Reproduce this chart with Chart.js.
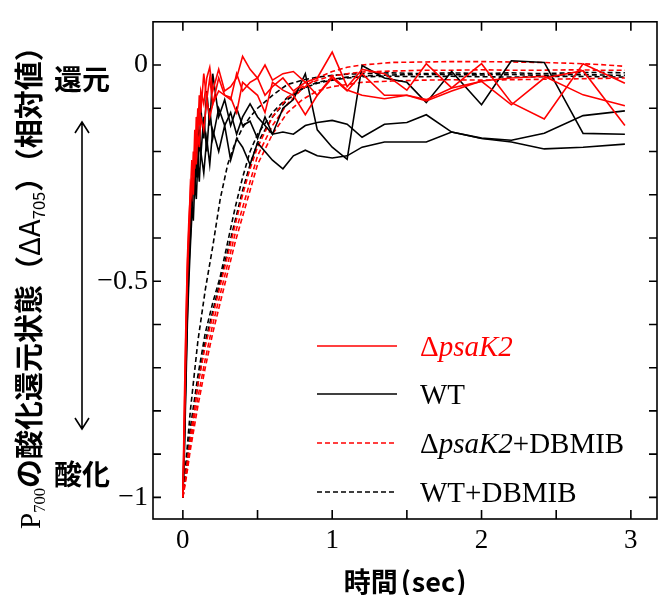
<!DOCTYPE html>
<html>
<head>
<meta charset="utf-8">
<script src="https://cdn.jsdelivr.net/npm/chart.js@4.4.0/dist/chart.umd.min.js"></script>
<style>body{margin:0;background:#fff}</style>
</head>
<body>
<canvas id="c" width="658" height="595"></canvas>
<script>
// sampling times (sec)
var time = [0, 0.01, 0.02, 0.03, 0.04, 0.05, 0.06, 0.07, 0.08, 0.09, 0.1, 0.11, 0.12, 0.14, 0.16, 0.18, 0.2,
  0.24, 0.28, 0.32, 0.36, 0.4, 0.45, 0.5, 0.55, 0.6, 0.67, 0.74, 0.82, 0.9, 1.0,
  1.1, 1.2, 1.35, 1.5, 1.63, 1.8, 2.0, 2.2, 2.42, 2.68, 2.96];
var dbTime = [0, 0.025, 0.05, 0.075, 0.1, 0.15, 0.2, 0.25, 0.3, 0.35, 0.4, 0.45, 0.5, 0.6, 0.7,
  0.8, 0.9, 1.0, 1.1, 1.2, 1.4, 1.6, 1.8, 2.0, 2.2, 2.4, 2.6, 2.8, 2.96];

// ΔpsaK2
var psak2A = [-1, -0.78, -0.6, -0.45, -0.36, -0.3, -0.22, -0.26, -0.15, -0.19,
  -0.1, -0.14, -0.06, -0.09, -0.03, -0.005, -0.06, -0.01, -0.06, -0.05, -0.03, 0.02,
  -0.01, -0.03, 0.0, -0.035, -0.02, -0.015, -0.04, -0.03, 0.03,
  -0.05, -0.01, -0.02, -0.058, 0.003, -0.053, 0.003, -0.087, -0.125, 0.003, -0.042];
var psak2B = [-1, -0.82, -0.62, -0.47, -0.38, -0.28, -0.3, -0.2, -0.24, -0.12,
  -0.16, -0.07, -0.11, -0.02, -0.08, -0.03, -0.09, -0.03, -0.07, -0.08, -0.02, -0.06,
  -0.04, -0.03, -0.07, -0.05, -0.03, -0.06, -0.04, -0.07, -0.03,
  -0.06, -0.02, -0.07, -0.07, -0.083, -0.06, -0.037, -0.03, -0.026, -0.069, -0.094];
var psak2C = [-1, -0.85, -0.66, -0.5, -0.4, -0.33, -0.26, -0.3, -0.2, -0.23,
  -0.16, -0.19, -0.12, -0.15, -0.08, -0.12, -0.09, -0.06, -0.07, -0.075, -0.11, -0.04,
  -0.055, -0.07, -0.11, -0.04, -0.058, -0.07, -0.115, -0.07, -0.026,
  -0.058, -0.07, -0.078, -0.07, -0.08, -0.053, -0.038, -0.092, -0.03, -0.013, -0.14];

// WT
var wtA = [-1, -0.88, -0.72, -0.58, -0.47, -0.4, -0.33, -0.36, -0.27, -0.31,
  -0.22, -0.27, -0.2, -0.25, -0.17, -0.23, -0.15, -0.2, -0.14, -0.22, -0.17, -0.19,
  -0.23, -0.18, -0.2, -0.22, -0.24, -0.21, -0.197, -0.21, -0.215,
  -0.21, -0.19, -0.178, -0.178, -0.178, -0.155, -0.17, -0.178, -0.194, -0.19, -0.183];
var wtB = [-1, -0.86, -0.7, -0.55, -0.45, -0.36, -0.3, -0.25, -0.3, -0.2,
  -0.26, -0.15, -0.21, -0.12, -0.2, -0.1, -0.17, -0.1, -0.14, -0.11, -0.16, -0.12,
  -0.09, -0.12, -0.14, -0.16, -0.155, -0.16, -0.14, -0.133, -0.128,
  -0.137, -0.167, -0.137, -0.133, -0.115, -0.155, -0.169, -0.174, -0.158, -0.117, -0.106];
var wtC = [-1, -0.9, -0.75, -0.6, -0.5, -0.42, -0.35, -0.28, -0.22, -0.26,
  -0.14, -0.2, -0.1, -0.17, -0.06, -0.14, -0.02, -0.12, -0.08, -0.14, -0.1, -0.14,
  -0.13, -0.17, -0.12, -0.16, -0.1, -0.08, -0.02, -0.15, -0.19,
  -0.218, -0.001, -0.03, -0.04, -0.087, -0.015, -0.092, 0.01, 0.006, -0.158, -0.16];

// ΔpsaK2+DBMIB
var psak2DbA = [-1, -0.93, -0.86, -0.8, -0.74, -0.65, -0.58, -0.51, -0.44, -0.37, -0.3, -0.24, -0.19, -0.12, -0.075,
  -0.05, -0.035, -0.025, -0.02, -0.016, -0.014, -0.012, -0.012, -0.011, -0.012, -0.012, -0.011, -0.012, -0.012];
var psak2DbB = [-1, -0.94, -0.88, -0.82, -0.77, -0.68, -0.6, -0.53, -0.46, -0.39, -0.33, -0.27, -0.21, -0.14, -0.09,
  -0.055, -0.03, -0.015, -0.005, 0.0, 0.006, 0.007, 0.008, 0.008, 0.007, 0.006, 0.004, 0.001, -0.003];
var psak2DbC = [-1, -0.95, -0.89, -0.84, -0.79, -0.7, -0.62, -0.55, -0.48, -0.41, -0.35, -0.29, -0.23, -0.16, -0.11,
  -0.08, -0.06, -0.05, -0.045, -0.04, -0.037, -0.035, -0.034, -0.035, -0.034, -0.033, -0.032, -0.031, -0.03];

// WT+DBMIB
var wtDbA = [-1, -0.9, -0.8, -0.72, -0.64, -0.52, -0.42, -0.31, -0.23, -0.18, -0.145, -0.12, -0.1, -0.07, -0.045,
  -0.035, -0.028, -0.024, -0.021, -0.02, -0.018, -0.02, -0.018, -0.02, -0.018, -0.02, -0.018, -0.017, -0.018];
var wtDbB = [-1, -0.92, -0.84, -0.78, -0.72, -0.62, -0.55, -0.49, -0.41, -0.33, -0.26, -0.2, -0.16, -0.11, -0.075,
  -0.055, -0.04, -0.033, -0.028, -0.025, -0.023, -0.022, -0.022, -0.023, -0.022, -0.024, -0.022, -0.023, -0.024];
var wtDbC = [-1, -0.93, -0.86, -0.8, -0.74, -0.64, -0.57, -0.5, -0.43, -0.36, -0.29, -0.23, -0.18, -0.12, -0.08,
  -0.055, -0.042, -0.035, -0.03, -0.027, -0.026, -0.027, -0.026, -0.027, -0.028, -0.027, -0.026, -0.027, -0.028];

// ticks
var xTicks = [0, 0.5, 1, 1.5, 2, 2.5, 3];
var xTickLabels = ['0', '', '1', '', '2', '', '3'];
var yTicks = [-1, -0.9, -0.8, -0.7, -0.6, -0.5, -0.4, -0.3, -0.2, -0.1, 0];
var yTickLabels = ['\u22121', '', '', '', '', '\u22120.5', '', '', '', '', '0'];

var RED = '#ff0000', BLACK = '#000000';
var SERIF = '"Liberation Serif", "DejaVu Serif", serif';
var CJK = '"Noto Sans CJK JP", "Noto Sans", sans-serif';

function pts(ts, vs) {
  return ts.map(function (t, i) { return { x: t, y: vs[i] }; });
}
function ds(label, ts, vs, color, dashed) {
  return {
    label: label, data: pts(ts, vs), borderColor: color, borderWidth: 1.6,
    borderDash: dashed ? [5, 3] : [], pointRadius: 0, tension: 0, fill: false
  };
}

function runs(ctx, x, y, parts) {
  var cx = x;
  parts.forEach(function (p) {
    ctx.font = p.font;
    ctx.fillStyle = p.color || '#000';
    ctx.fillText(p.text, cx, y + (p.dy || 0));
    cx += ctx.measureText(p.text).width + (p.gap || 0);
  });
  return cx - x;
}
function runsWidth(ctx, parts) {
  var w = 0;
  parts.forEach(function (p) { ctx.font = p.font; w += ctx.measureText(p.text).width + (p.gap || 0); });
  return w;
}

// y title pieces, sizes scaled to fit the reference length
function yTitleParts(k) {
  var s = function (n) { return Math.round(n * k * 10) / 10 + 'px '; };
  return [
    { text: 'P', font: s(28) + SERIF },
    { text: '700', font: s(16) + SERIF, dy: 5 * k },
    { text: 'の酸化還元状態（', font: 'bold ' + s(28) + CJK },
    { text: '\u0394A', font: s(28) + CJK },
    { text: '705', font: s(16) + CJK, dy: 5 * k },
    { text: '）（相対値）', font: 'bold ' + s(28) + CJK }
  ];
}

var decor = {
  id: 'decor',
  afterDatasetsDraw: function (chart) {
    var ctx = chart.ctx, a = chart.chartArea, x = chart.scales.x, y = chart.scales.y;
    ctx.save();
    ctx.strokeStyle = '#000';
    ctx.lineWidth = 1.6;
    ctx.setLineDash([]);
    ctx.strokeRect(a.left, a.top, a.right - a.left, a.bottom - a.top);
    ctx.beginPath();
    yTicks.forEach(function (v) {
      var p = y.getPixelForValue(v);
      ctx.moveTo(a.left, p); ctx.lineTo(a.left + 8, p);
      ctx.moveTo(a.right, p); ctx.lineTo(a.right - 8, p);
    });
    xTicks.forEach(function (v) {
      var p = x.getPixelForValue(v);
      ctx.moveTo(p, a.bottom); ctx.lineTo(p, a.bottom - 9);
      ctx.moveTo(p, a.top); ctx.lineTo(p, a.top + 9);
    });
    ctx.stroke();

    // legend inside the plot
    var rows = [
      { y: 346, color: RED, dash: [], parts: [
        { text: '\u0394', font: '29px ' + SERIF, color: RED },
        { text: 'psaK2', font: 'italic 29px ' + SERIF, color: RED }] },
      { y: 394, color: BLACK, dash: [], parts: [
        { text: 'WT', font: '29px ' + SERIF }] },
      { y: 443, color: RED, dash: [5, 3], parts: [
        { text: '\u0394', font: '29px ' + SERIF },
        { text: 'psaK2', font: 'italic 29px ' + SERIF },
        { text: '+DBMIB', font: '29px ' + SERIF }] },
      { y: 492, color: BLACK, dash: [5, 3], parts: [
        { text: 'WT+DBMIB', font: '29px ' + SERIF }] }
    ];
    ctx.textBaseline = 'alphabetic';
    ctx.textAlign = 'left';
    rows.forEach(function (r) {
      ctx.strokeStyle = r.color;
      ctx.lineWidth = 1.6;
      ctx.setLineDash(r.dash);
      ctx.beginPath();
      ctx.moveTo(317, r.y); ctx.lineTo(397, r.y);
      ctx.stroke();
      runs(ctx, 420, r.y + 10, r.parts);
    });
    ctx.restore();
  },
  afterDraw: function (chart) {
    var ctx = chart.ctx;
    ctx.save();
    ctx.setLineDash([]);
    // y axis title, rotated, stretched from y=529 up to y=32
    var k = 497 / runsWidth(ctx, yTitleParts(1));
    ctx.translate(40, 529);
    ctx.rotate(-Math.PI / 2);
    ctx.textBaseline = 'alphabetic';
    ctx.textAlign = 'left';
    runs(ctx, 0, 0, yTitleParts(k));
    ctx.setTransform(1, 0, 0, 1, 0, 0);

    // reduced / oxidized labels and double arrow
    ctx.fillStyle = '#000';
    ctx.font = 'bold 28px ' + CJK;
    ctx.textAlign = 'center';
    ctx.textBaseline = 'middle';
    ctx.fillText('還元', 82, 79);
    ctx.fillText('酸化', 82, 474);
    ctx.strokeStyle = '#000';
    ctx.lineWidth = 1.6;
    ctx.beginPath();
    ctx.moveTo(82, 123); ctx.lineTo(82, 428);
    ctx.moveTo(75, 133); ctx.lineTo(82, 122); ctx.lineTo(89, 133);
    ctx.moveTo(75, 418); ctx.lineTo(82, 429); ctx.lineTo(89, 418);
    ctx.stroke();

    // x axis title
    var xt = [
      { text: '時間', font: 'bold 27px ' + CJK, gap: 3 },
      { text: '(', font: 'bold 27px ' + CJK, gap: 1 },
      { text: 'sec', font: 'bold 27px ' + CJK, gap: 1 },
      { text: ')', font: 'bold 27px ' + CJK }
    ];
    ctx.textAlign = 'left';
    var w = runsWidth(ctx, xt);
    runs(ctx, 405 - w / 2, 582, xt);
    ctx.restore();
  }
};

var datasets = [
  ds('\u0394psaK2', time, psak2A, RED, false),
  ds('\u0394psaK2', time, psak2B, RED, false),
  ds('\u0394psaK2', time, psak2C, RED, false),
  ds('WT', time, wtA, BLACK, false),
  ds('WT', time, wtB, BLACK, false),
  ds('WT', time, wtC, BLACK, false),
  ds('\u0394psaK2+DBMIB', dbTime, psak2DbA, RED, true),
  ds('\u0394psaK2+DBMIB', dbTime, psak2DbB, RED, true),
  ds('\u0394psaK2+DBMIB', dbTime, psak2DbC, RED, true),
  ds('WT+DBMIB', dbTime, wtDbA, BLACK, true),
  ds('WT+DBMIB', dbTime, wtDbB, BLACK, true),
  ds('WT+DBMIB', dbTime, wtDbC, BLACK, true)
];

new Chart(document.getElementById('c'), {
  type: 'line',
  data: { datasets: datasets },
  plugins: [decor],
  options: {
    responsive: false,
    animation: false,
    devicePixelRatio: 1,
    layout: { padding: { left: 0, top: 13, right: 1, bottom: 0 } },
    plugins: { legend: { display: false }, tooltip: { enabled: false } },
    scales: {
      x: {
        type: 'linear', min: -0.2, max: 3.175,
        grid: { display: false, drawTicks: false },
        border: { display: false },
        afterBuildTicks: function (s) { s.ticks = xTicks.map(function (v) { return { value: v }; }); },
        afterFit: function (s) { s.height = 76; },
        ticks: {
          autoSkip: false, maxRotation: 0, padding: 6, color: '#000',
          font: { family: SERIF, size: 27 },
          callback: function (v) { var i = xTicks.indexOf(v); return i < 0 ? '' : xTickLabels[i]; }
        }
      },
      y: {
        type: 'linear', min: -1.05, max: 0.1,
        grid: { display: false, drawTicks: false },
        border: { display: false },
        afterBuildTicks: function (s) { s.ticks = yTicks.map(function (v) { return { value: v }; }); },
        afterFit: function (s) { s.width = 153; },
        ticks: {
          autoSkip: false, padding: 5, color: '#000',
          font: { family: SERIF, size: 28 },
          callback: function (v) {
            for (var i = 0; i < yTicks.length; i++) if (Math.abs(yTicks[i] - v) < 1e-6) return yTickLabels[i];
            return '';
          }
        }
      }
    }
  }
});
</script>
</body>
</html>
